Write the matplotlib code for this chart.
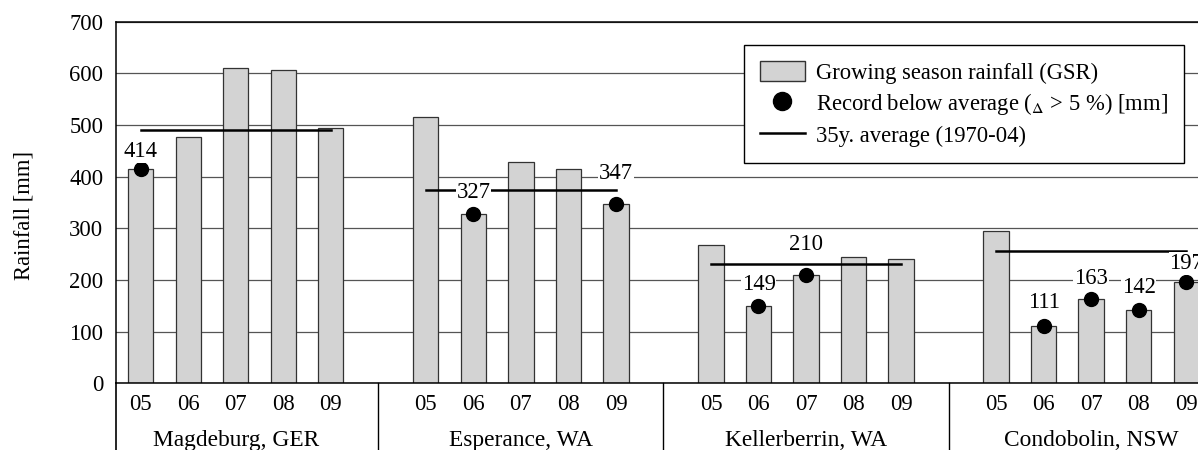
import matplotlib
matplotlib.use("Agg")
import matplotlib.pyplot as plt
import numpy as np
from matplotlib.lines import Line2D
from matplotlib.patches import Patch

plt.rcParams["font.family"] = ["Liberation Serif", "DejaVu Serif"]
plt.rcParams["mathtext.fontset"] = "stix"

groups = ["Magdeburg, GER", "Esperance, WA", "Kellerberrin, WA", "Condobolin, NSW"]
years = ["05", "06", "07", "08", "09"]

gsr_magdeburg = [414, 476, 611, 607, 495]
gsr_esperance = [516, 327, 428, 414, 347]
gsr_kellerberrin = [267, 149, 210, 244, 240]
gsr_condobolin = [294, 111, 163, 142, 197]

# 35-year averages (1970-04)
avg_35y = [491, 375, 231, 256]

# 1 = record below average (delta > 5 %)
below_magdeburg = [1, 0, 0, 0, 0]
below_esperance = [0, 1, 0, 0, 1]
below_kellerberrin = [0, 1, 1, 0, 0]
below_condobolin = [0, 1, 1, 1, 1]

# label offsets (points) above each marked dot, in order
label_offsets = [13, 16, 22, 16, 22, 17, 15, 16, 13]

FS = 16.3


def main():
    gsr = [gsr_magdeburg, gsr_esperance, gsr_kellerberrin, gsr_condobolin]
    below = [below_magdeburg, below_esperance, below_kellerberrin, below_condobolin]

    fig = plt.figure(figsize=(11.98, 4.5), dpi=100)
    ax = fig.add_axes([115.7 / 1198, 1 - 383.3 / 450, 1 - 115.7 / 1198, 361.6 / 450])

    slot = len(years) + 1
    label_i = 0
    xticks, xlabels = [], []
    for g, name in enumerate(groups):
        x = np.arange(len(years)) + g * slot
        ax.bar(x, gsr[g], width=0.53, color="#d3d3d3", edgecolor="#333333",
               linewidth=0.9, zorder=2)
        ax.plot([x[0], x[-1]], [avg_35y[g]] * 2, color="black", lw=1.8, zorder=3)
        for xi, v, b in zip(x, gsr[g], below[g]):
            if b:
                ax.plot(xi, v, "o", color="black", ms=10, zorder=4)
                ax.annotate(str(v), (xi, v), xytext=(0, label_offsets[label_i]),
                            textcoords="offset points", ha="center", va="center",
                            fontsize=FS, zorder=5,
                            bbox=dict(facecolor="white", edgecolor="none", pad=0.5))
                label_i += 1
        xticks.extend(x)
        xlabels.extend(years)
        ax.text(g * slot + 2, -0.157, name, transform=ax.get_xaxis_transform(),
                ha="center", va="center", fontsize=FS + 0.5)
        if g > 0:
            ax.plot([g * slot - 1] * 2, [0, -0.3], color="black", lw=1,
                    transform=ax.get_xaxis_transform(), clip_on=False)

    ax.plot([0, 0], [0, -0.3], color="black", lw=1.2,
            transform=ax.transAxes, clip_on=False)

    ax.set_xlim(-0.528, 22.25)
    ax.set_ylim(0, 700)
    ax.set_yticks(range(0, 701, 100))
    ax.set_xticks(xticks)
    ax.set_xticklabels(xlabels)
    ax.tick_params(axis="both", length=0, labelsize=FS)
    ax.tick_params(axis="x", pad=8)
    ax.tick_params(axis="y", pad=9)
    ax.yaxis.grid(True, color="#555555", lw=0.9, zorder=0)
    ax.set_axisbelow(True)
    ax.spines["right"].set_visible(False)
    for s in ["top", "left", "bottom"]:
        ax.spines[s].set_linewidth(1.1)

    fig.text(24 / 1198, 1 - 215 / 450, "Rainfall [mm]", rotation=90,
             ha="center", va="center", fontsize=FS)

    handles = [
        Patch(facecolor="#d3d3d3", edgecolor="#333333"),
        Line2D([], [], marker="o", color="black", ls="none", ms=13),
        Line2D([], [], color="black", lw=1.8),
    ]
    labels = [
        "Growing season rainfall (GSR)",
        r"Record below average ($_\Delta$ > 5 %) [mm]",
        "35y. average (1970-04)",
    ]
    leg = ax.legend(handles, labels, loc="upper right", bbox_to_anchor=(0.987, 0.935),
                    borderaxespad=0, fontsize=FS, fancybox=False, framealpha=1,
                    edgecolor="black", handlelength=2.0, handleheight=1.0,
                    labelspacing=0.32, borderpad=0.7, handletextpad=0.5)
    leg.get_frame().set_linewidth(1)
    leg.set_zorder(6)

    fig.savefig("out.png", dpi=100)


if __name__ == "__main__":
    main()
